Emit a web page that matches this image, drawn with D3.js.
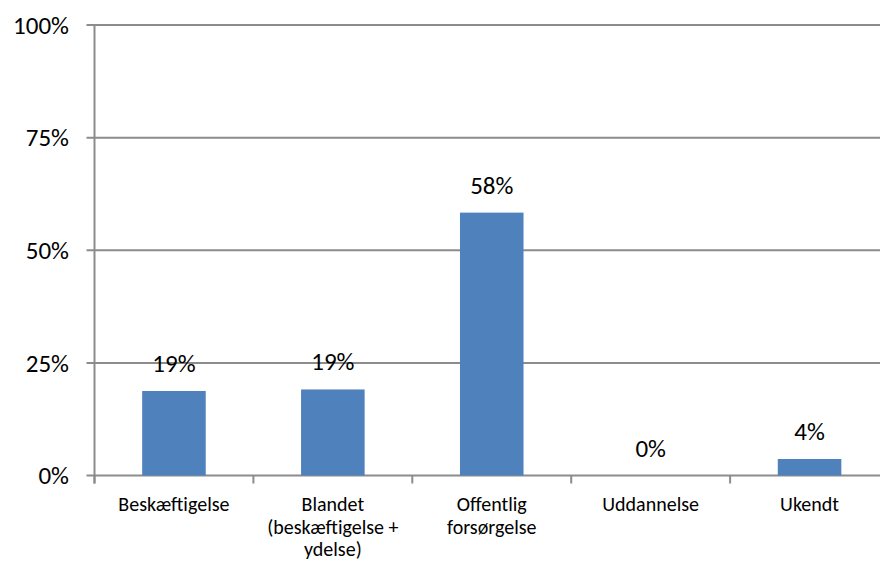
<!DOCTYPE html>
<html><head><meta charset="utf-8">
<script src="https://cdn.jsdelivr.net/npm/d3@7"></script>
<style>body{margin:0;background:#fff}svg{display:block}text{font-family:Carlito,Lato,"Open Sans",sans-serif;fill:#000}</style>
</head><body>
<svg id="c" width="880" height="563"></svg>
<script>
const categories = [["Beskæftigelse"],["Blandet","(beskæftigelse +","ydelse)"],["Offentlig","forsørgelse"],["Uddannelse"],["Ukendt"]];
const values = [0.1876, 0.1910, 0.5835, 0.0, 0.0366];
const valueLabels = ["19%","19%","58%","0%","4%"];
const yTicks = [0, 0.25, 0.5, 0.75, 1];
const yTickLabels = ["0%","25%","50%","75%","100%"];

(function(){
const svg = d3.select("#c");
const pLeft = 94.5, pRight = 889, pTop = 25, pBottom = 475.5;
const x = d3.scaleBand().domain(d3.range(categories.length)).range([pLeft, pRight]).paddingInner(0.6).paddingOuter(0.3);
const y = d3.scaleLinear().domain([0,1]).range([pBottom, pTop]);
const grid = "#8c8c8c";

svg.append("g").selectAll("line").data(yTicks).join("line")
  .attr("x1", pLeft - 8).attr("x2", pRight).attr("y1", d=>y(d)).attr("y2", d=>y(d))
  .attr("stroke", grid).attr("stroke-width", 2);
svg.append("line").attr("x1", pLeft).attr("x2", pLeft).attr("y1", pTop).attr("y2", pBottom + 8)
  .attr("stroke", grid).attr("stroke-width", 2);
const step = x.step();
svg.append("g").selectAll("line").data(d3.range(categories.length+1)).join("line")
  .attr("x1", i=>pLeft + i*step).attr("x2", i=>pLeft + i*step).attr("y1", pBottom).attr("y2", pBottom + 8)
  .attr("stroke", grid).attr("stroke-width", 2);
svg.append("g").selectAll("text").data(yTicks).join("text")
  .attr("x", 69).attr("y", d=>y(d)).attr("dy", "0.35em").attr("text-anchor","end")
  .style("font-size","25px").text((d,i)=>yTickLabels[i]);
svg.append("g").selectAll("rect").data(values).join("rect")
  .attr("x", (d,i)=>x(i)).attr("width", x.bandwidth())
  .attr("y", d=>y(d)).attr("height", d=>pBottom - y(d))
  .attr("fill", "#4f81bd");
svg.append("g").selectAll("text").data(values).join("text")
  .attr("x", (d,i)=>x(i)+x.bandwidth()/2).attr("y", d=>y(d)-19).attr("text-anchor","middle")
  .style("font-size","25px").text((d,i)=>valueLabels[i]);
const cg = svg.append("g").selectAll("text").data(categories).join("text")
  .attr("text-anchor","middle").style("font-size","20px")
  .attr("transform", (d,i)=>`translate(${x(i)+x.bandwidth()/2},511)`);
cg.selectAll("tspan").data(d=>d).join("tspan").attr("x",0).attr("y",(d,j)=>j*22.5).text(d=>d);
})();
</script>
</body></html>
